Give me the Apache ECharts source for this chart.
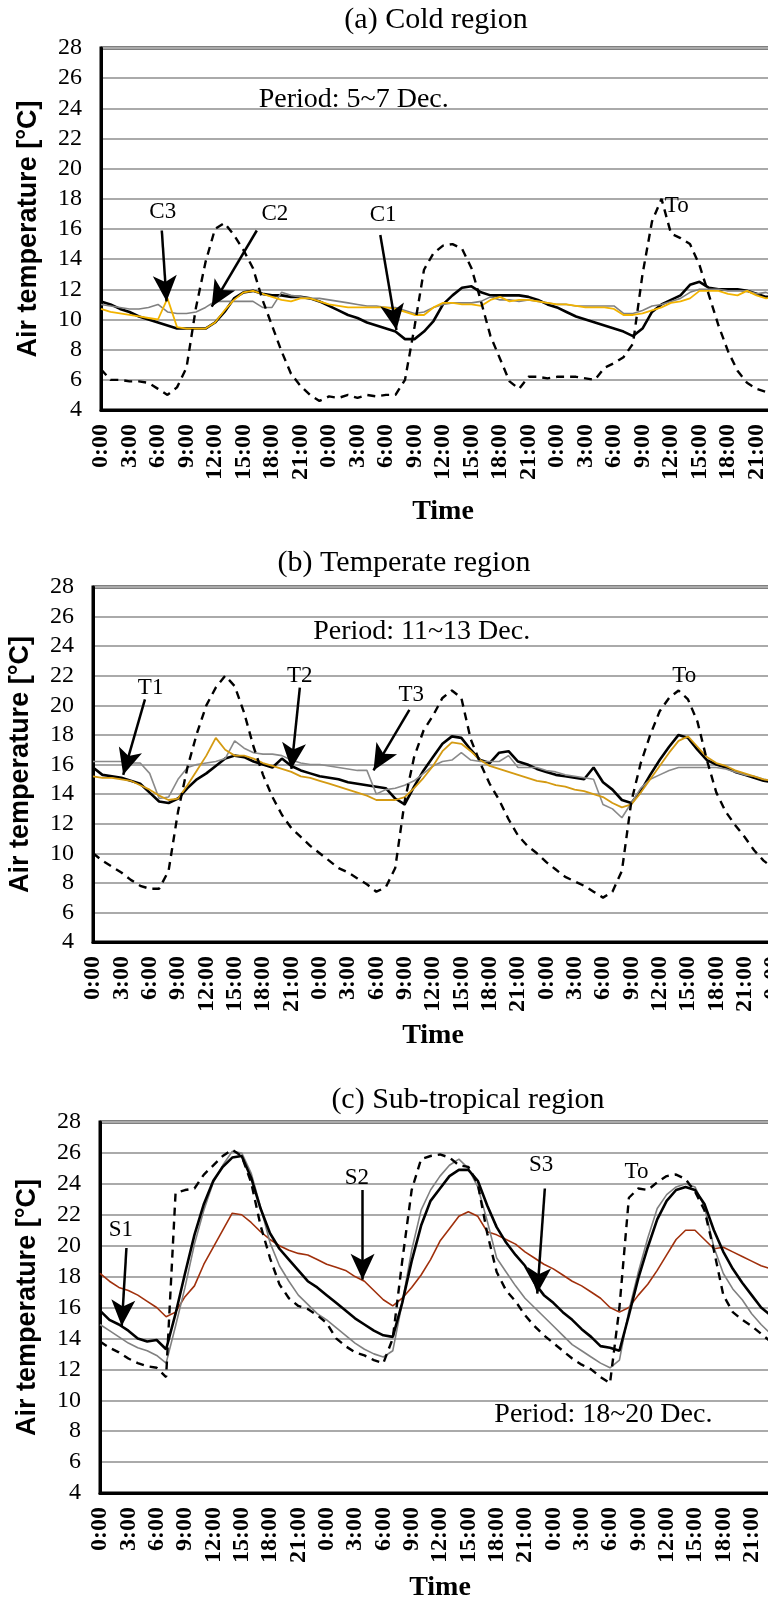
<!DOCTYPE html>
<html><head><meta charset="utf-8">
<script src="https://cdn.jsdelivr.net/npm/echarts@6/dist/echarts.min.js"></script>
<style>html,body{margin:0;padding:0;background:#fff;overflow:hidden;width:768px;height:1601px}#c{width:830px;height:1601px}</style>
</head><body><div id="c"></div>
<script>
// ---- shared x values (hours from start of period) ----
const hours = [0,1,2,3,4,5,6,7,8,9,10,11,12,13,14,15,16,17,18,19,20,21,22,23,24,25,26,27,28,29,30,31,32,33,34,35,36,37,38,39,40,41,42,43,44,45,46,47,48,49,50,51,52,53,54,55,56,57,58,59,60,61,62,63,64,65,66,67,68,69,70,71,72];
const timeTickLabels = ['0:00','3:00','6:00','9:00','12:00','15:00','18:00','21:00'];

// ---- (a) Cold region, 5~7 Dec. ----
const coldTo = [6.7,6.0,6.0,5.9,5.9,5.8,5.4,5.0,5.5,6.8, 10.8,13.8,16.0,16.4,15.6,14.6,13.4,11.3,9.6,7.9, 6.4,5.6,5.0,4.6,4.9,4.8,5.0,4.8,5.0,4.9, 5.0,5.0,6.0,9.5,13.3,14.4,14.9,15.0,14.7,13.4, 11.2,8.9,7.4,5.9,5.4,6.2,6.2,6.1,6.2,6.2, 6.2,6.1,6.0,6.8,7.1,7.5,8.4,13.0,16.5,18.0, 15.7,15.4,15.0,13.6,11.6,9.6,7.9,6.6,5.8,5.4, 5.2,5.6,5.3];
const coldC1 = [11.2,11.0,10.7,10.5,10.2,10.0,9.8,9.6,9.4,9.4, 9.4,9.4,9.8,10.5,11.4,11.8,11.9,11.7,11.6,11.6, 11.5,11.5,11.4,11.2,10.9,10.6,10.3,10.1,9.8,9.6, 9.4,9.2,8.7,8.7,9.2,9.9,11.0,11.6,12.1,12.2, 11.8,11.6,11.6,11.6,11.6,11.5,11.3,11.0,10.8,10.5, 10.2,10.0,9.8,9.6,9.4,9.2,8.9,9.4,10.5,11.0, 11.3,11.6,12.3,12.5,12.1,12.0,12.0,12.0,11.9,11.7, 11.5,11.5,11.4];
const coldC2 = [11.0,10.9,10.8,10.7,10.7,10.8,11.0,10.5,10.4,10.4, 10.5,10.8,11.2,11.2,11.2,11.2,11.2,10.8,10.8,11.8, 11.6,11.5,11.4,11.4,11.3,11.2,11.1,11.0,10.9,10.9, 10.8,10.8,10.6,10.4,10.5,10.8,11.0,11.1,11.1,11.1, 11.2,11.5,11.3,11.3,11.2,11.3,11.2,11.1,11.0,11.0, 10.9,10.9,10.9,10.9,10.9,10.4,10.4,10.6,10.9,11.0, 11.2,11.4,11.8,12.0,12.0,12.0,11.9,11.9,11.9,11.7, 11.8,11.5,11.5];
const coldC3 = [10.7,10.5,10.4,10.3,10.2,10.1,10.0,11.4,9.5,9.4, 9.4,9.4,9.8,10.6,11.3,11.8,11.9,11.7,11.5,11.3, 11.2,11.4,11.4,11.2,11.0,10.9,10.8,10.8,10.8,10.8, 10.8,10.7,10.5,10.3,10.3,10.8,11.1,11.1,11.0,11.0, 10.9,11.3,11.5,11.2,11.3,11.3,11.2,11.1,11.0,11.0, 10.9,10.8,10.8,10.8,10.7,10.3,10.3,10.4,10.6,10.8, 11.1,11.2,11.4,11.9,11.9,11.9,11.7,11.6,11.9,11.6, 11.4,11.5,11.4];

// ---- (b) Temperate region, 11~13 Dec. ----
const tempTo = [10.0,9.5,9.1,8.7,8.2,7.8,7.6,7.6,8.8,12.8, 15.8,18.1,20.0,21.2,22.0,21.3,19.5,17.2,15.3,13.8, 12.6,11.7,11.1,10.5,10.0,9.5,9.0,8.7,8.3,7.9, 7.4,7.7,9.0,13.5,16.5,18.3,19.3,20.5,21.0,20.5, 17.7,16.1,14.7,13.6,12.3,11.2,10.5,10.0,9.4,8.9, 8.4,8.1,7.8,7.4,7.0,7.4,8.8,13.5,16.1,18.0, 19.6,20.5,21.0,20.4,18.9,16.3,14.1,12.8,11.9,11.1, 10.2,9.5,9.0];
const tempT1 = [15.2,15.1,15.1,15.0,14.9,14.6,14.3,13.9,13.6,13.7, 14.6,15.6,16.6,17.8,17.0,16.6,16.6,16.4,16.1,15.9, 15.7,15.5,15.2,15.1,14.9,14.7,14.5,14.3,14.1,13.9, 13.6,13.6,13.6,13.8,14.4,15.1,15.9,16.9,17.5,17.4, 16.9,16.3,15.9,15.7,15.5,15.3,15.1,14.9,14.8,14.6, 14.5,14.3,14.2,14.0,13.8,13.4,13.1,13.3,14.1,15.0, 15.9,16.8,17.6,17.9,17.2,16.5,16.1,15.9,15.6,15.4, 15.2,15.0,14.9];
const tempT2 = [15.8,15.3,15.2,15.1,14.9,14.7,14.1,13.5,13.4,13.7, 14.4,15.0,15.4,15.9,16.4,16.6,16.5,16.2,16.0,15.8, 16.4,15.9,15.6,15.4,15.2,15.1,15.0,14.8,14.7,14.6, 14.5,14.4,13.7,13.3,14.5,15.6,16.5,17.4,17.9,17.8, 17.0,16.3,16.1,16.8,16.9,16.2,16.0,15.7,15.5,15.3, 15.2,15.1,15.0,15.8,14.8,14.3,13.6,13.4,14.2,15.3, 16.3,17.2,18.0,17.8,17.0,16.3,16.0,15.8,15.5,15.3, 15.1,14.9,14.8];
const tempT3 = [16.2,16.2,16.2,16.2,16.1,16.1,15.4,13.7,13.8,15.0, 15.8,16.0,16.1,16.2,16.4,17.6,17.1,16.8,16.7,16.7, 16.6,16.3,16.1,16.0,16.0,15.9,15.8,15.7,15.6,15.6, 14.0,14.3,14.4,14.6,14.9,15.4,15.9,16.2,16.3,16.8, 16.3,16.2,16.2,16.2,16.6,15.8,15.8,15.8,15.6,15.5, 15.3,15.2,15.1,15.0,13.3,13.0,12.4,13.4,14.4,15.0, 15.3,15.6,15.8,15.8,15.8,15.8,15.8,15.7,15.5,15.3, 15.2,15.0,14.9];

// ---- (c) Sub-tropical region, 18~20 Dec. ----
const subTo = [13.8,13.4,13.1,12.7,12.4,12.2,12.1,11.5,23.4,23.6, 23.7,24.6,25.2,25.8,26.2,25.8,24.1,21.3,19.2,17.5, 16.6,16.1,15.9,15.5,15.0,14.0,13.5,13.1,12.9,12.6, 12.4,14.0,19.0,23.6,25.6,25.8,25.9,25.7,25.2,25.1, 24.0,20.8,18.3,17.1,16.4,15.5,14.8,14.2,13.7,13.2, 12.7,12.3,12.0,11.5,11.1,16.0,23.1,23.7,23.6,24.1, 24.5,24.6,24.3,23.5,22.3,19.7,16.8,15.7,15.2,14.8, 14.3,13.8,13.3];
const subS1 = [15.8,15.2,14.9,14.5,14.0,13.8,13.9,13.3,15.6,18.2, 20.7,22.7,24.2,25.1,25.7,25.8,24.4,22.4,20.8,19.8, 19.1,18.4,17.7,17.3,16.8,16.3,15.8,15.3,14.9,14.5, 14.2,14.1,16.3,19.0,21.3,22.9,23.7,24.5,24.9,24.9, 24.2,22.6,21.2,20.2,19.4,18.7,17.6,16.8,16.3,15.7, 15.2,14.6,14.1,13.5,13.4,13.2,15.5,17.9,19.9,21.7, 22.9,23.6,23.8,23.6,22.7,21.0,19.6,18.5,17.6,16.8, 16.0,15.5,15.0];
const subS2 = [18.2,17.7,17.3,17.1,16.8,16.4,16.0,15.4,15.7,16.7, 17.4,18.8,19.9,21.0,22.1,22.0,21.5,20.9,20.4,20.0, 19.7,19.5,19.4,19.1,18.8,18.6,18.4,18.0,17.7,17.1, 16.5,16.1,16.6,17.3,18.1,19.1,20.3,21.1,21.9,22.2, 21.9,20.9,20.7,20.4,20.1,19.6,19.2,18.8,18.5,18.1, 17.7,17.4,17.0,16.6,16.0,15.7,16.0,16.8,17.5,18.4, 19.4,20.4,21.0,21.0,20.4,19.8,19.9,19.6,19.3,19.0, 18.7,18.5,18.3];
const subS3 = [14.9,14.5,14.1,13.7,13.4,13.2,12.9,12.4,14.8,17.3, 20.1,22.3,24.1,25.2,26.1,26.0,24.7,22.5,20.2,18.7, 17.7,16.8,16.2,15.6,15.2,14.7,14.2,13.7,13.3,13.0, 12.8,13.2,16.3,19.7,22.3,23.6,24.5,25.2,25.6,25.0, 23.8,21.6,19.2,18.3,17.4,16.6,16.0,15.4,14.8,14.2, 13.6,13.2,12.8,12.4,12.1,12.6,15.8,18.3,20.5,22.4, 23.3,23.8,24.0,23.8,22.5,19.9,18.2,17.2,16.5,15.6, 14.9,14.3,13.8];

// ---- annotation anchors in data units [hour, °C] ----
const coldNotes = [['C3',6.5,17.1,6.4,15.9,6.9,11.2],['C2',18.3,17.0,16.4,15.9,11.65,10.85],['C1',29.7,16.9,29.4,15.6,31.1,9.3]];
const tempNotes = [['T1',6.1,21.2,5.5,20.4,3.2,15.3],['T2',21.9,22.0,21.9,21.2,21.0,15.7],['T3',33.7,20.7,33.5,19.7,29.7,15.6]];
const subNotes  = [['S1',2.2,21.0,2.8,19.85,2.3,14.8],['S2',27.2,24.4,27.8,23.6,27.8,17.8],['S3',46.7,25.2,47.1,23.7,46.3,16.9]];
const toLabelPos = [[60.6,17.5],[62.6,22.0],[56.8,24.8]];
const periodText = ['Period: 5~7 Dec.','Period: 11~13 Dec.','Period: 18~20 Dec.'];
const periodPos = [[26.6,24.6],[34.8,25.0],[53.3,9.1]];
const panelTitles = ['(a) Cold region','(b) Temperate region','(c) Sub-tropical region'];

const pair = arr => hours.map((h,i)=>[h,arr[i]]);
const SERIF = '"Liberation Serif","Times New Roman",serif';

const layouts = [
  {left:101, top:48,   width:684, height:362, timeGap:88, titleX:436, titleY:20},
  {left:93,  top:587,  width:680, height:355, timeGap:80, titleX:404, titleY:563},
  {left:100, top:1122, width:680, height:371, timeGap:81, titleX:468, titleY:1100}
];

const grids=[], xAxes=[], yAxes=[], series=[], graphics=[];
const panels = [
  {lines:[[coldC1,'#000000',2.6],[coldC2,'#808080',1.6],[coldC3,'#f2b300',1.8]], to:coldTo, notes:coldNotes},
  {lines:[[tempT2,'#000000',2.6],[tempT3,'#8a8a8a',1.6],[tempT1,'#d49a12',1.8]], to:tempTo, notes:tempNotes},
  {lines:[[subS2,'#a0300c',1.6],[subS3,'#808080',1.6],[subS1,'#000000',2.6]], to:subTo, notes:subNotes}
];

panels.forEach((p,k)=>{
  const L = layouts[k];
  grids.push({left:L.left, top:L.top, width:L.width, height:L.height, outerBoundsMode:'none', containLabel:false,
    show:true, borderColor:'#000', borderWidth:3, backgroundColor:'transparent'});
  xAxes.push({gridIndex:k, type:'value', min:0, max:72, interval:3,
    name:'Time', nameLocation:'middle', nameGap:L.timeGap,
    nameTextStyle:{fontFamily:SERIF, fontWeight:'bold', fontSize:28, color:'#000'},
    axisLine:{show:true, lineStyle:{color:'#000', width:3}}, axisTick:{show:false}, splitLine:{show:false},
    axisLabel:{rotate:90, margin:14, fontFamily:SERIF, fontWeight:'bold', fontSize:24, color:'#000',
      formatter:v=>timeTickLabels[Math.round(v/3)%8]}});
  yAxes.push({gridIndex:k, type:'value', min:4, max:28, interval:2,
    name:'Air temperature [°C]', nameLocation:'middle', nameGap:59,
    nameTextStyle:{fontFamily:'"Liberation Sans",Arial,sans-serif', fontWeight:'bold', fontSize:27, color:'#000'},
    axisLine:{show:true, lineStyle:{color:'#000', width:3}}, axisTick:{show:false},
    splitLine:{show:true, lineStyle:{color:'#aaaaaa', width:2}},
    axisLabel:{margin:19, fontFamily:SERIF, fontSize:24, color:'#000'}});
  p.lines.forEach(([arr,col,w])=>{
    series.push({type:'line', xAxisIndex:k, yAxisIndex:k, data:pair(arr), showSymbol:false, symbol:'none',
      lineStyle:{color:col, width:w}, animation:false, silent:true});
  });
  const mpData = p.notes.map(n=>({name:n[0], coord:[n[1],n[2]]}));
  mpData.push({name:'To', coord:toLabelPos[k]});
  mpData.push({name:periodText[k], coord:periodPos[k], label:{fontSize:28}});
  series.push({type:'line', xAxisIndex:k, yAxisIndex:k, data:pair(p.to), showSymbol:false, symbol:'none',
    lineStyle:{color:'#000', width:2.4, type:[8,6]}, animation:false, silent:true,
    markLine:{silent:true, symbol:['none','arrow'], symbolSize:[18,26], animation:false,
      label:{show:false}, lineStyle:{color:'#000', width:2.5, type:'solid'},
      data:p.notes.map(n=>[{coord:[n[3],n[4]]},{coord:[n[5],n[6]]}])},
    markPoint:{silent:true, symbol:'rect', symbolSize:0, animation:false,
      label:{show:true, position:'inside', formatter:'{b}', fontFamily:SERIF, fontSize:23, color:'#000'},
      data:mpData}
  });
  graphics.push({type:'text', x:L.titleX, y:L.titleY, style:{text:panelTitles[k], font:'30px '+SERIF, fill:'#000', align:'center', verticalAlign:'middle'}});
});

const chart = echarts.init(document.getElementById('c'), null, {renderer:'canvas'});
chart.setOption({backgroundColor:'#fff', animation:false, grid:grids, xAxis:xAxes, yAxis:yAxes, series:series, graphic:graphics});
</script>
</body></html>
